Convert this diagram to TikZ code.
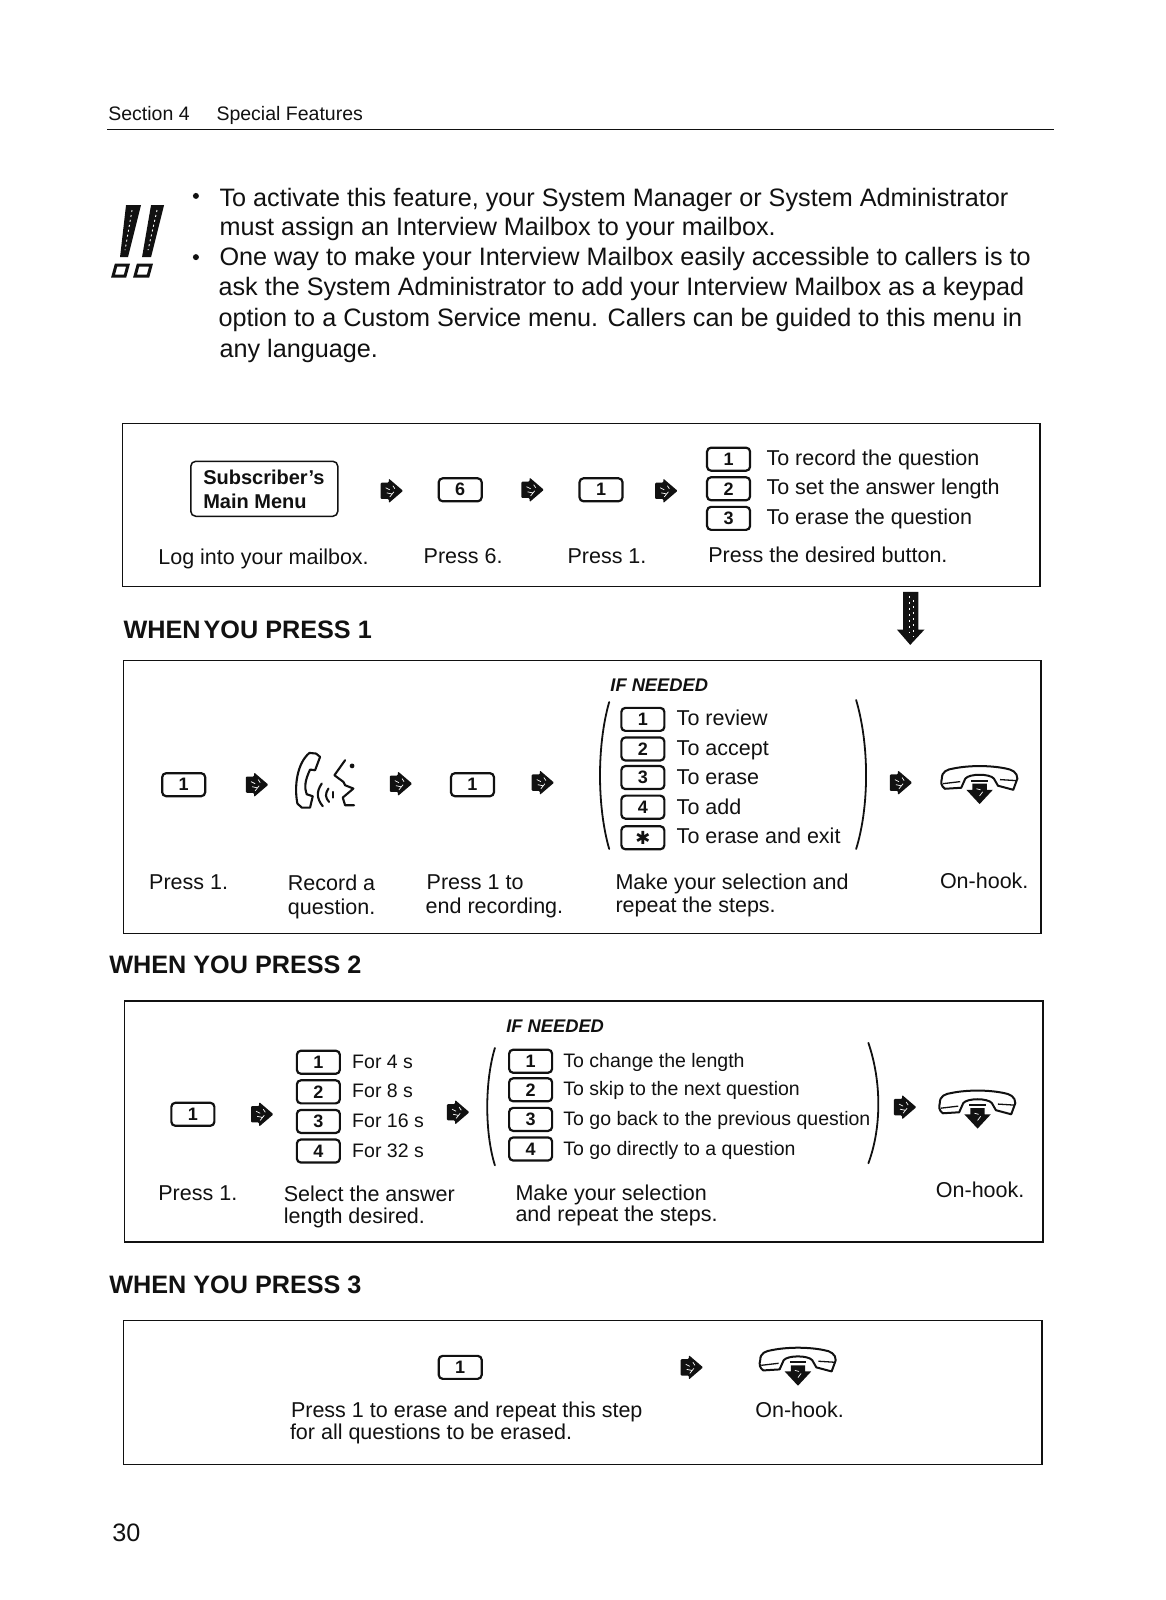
\documentclass[tikz,border=0pt]{standalone}
\usepackage{fontspec}
\setmainfont{Liberation Sans}
\newfontfamily\dejavu{DejaVu Sans}
\definecolor{ink}{HTML}{111111}
\tikzset{
  txt/.style={inner sep=0pt,text=ink,font=\fontsize{21.5}{24}\selectfont},
  big/.style={txt,font=\fontsize{25.2}{28}\selectfont},
  small/.style={txt,font=\fontsize{19.5}{22}\selectfont},
  head/.style={txt,font=\fontsize{25.2}{28}\selectfont\bfseries},
  hdr/.style={txt,font=\fontsize{19.5}{22}\selectfont},
  ifn/.style={txt,font=\fontsize{18.3}{22}\selectfont\bfseries\itshape},
  menu/.style={txt,font=\fontsize{20}{22}\selectfont\bfseries},
  frame/.style={draw=ink,line width=1.4pt},
  keybox/.style={draw=ink,line width=2.2pt,rounded corners=4pt,minimum width=43pt,minimum height=23pt,inner sep=0pt,text=ink,font=\fontsize{18}{20}\selectfont\bfseries},
  brk/.style={draw=ink,line width=1.8pt,line cap=round},
  arrowr/.pic={
    \fill[ink,rounded corners=1pt] (-11,-8) -- (-3,-8) -- (-3,-12) -- (11,0) -- (-3,12) -- (-3,8) -- (-11,8) -- cycle;
    \draw[white,line width=.7pt] (-6,-3) -- (-2,-1) (-5,2) -- (0,3) (1,-5) -- (3,-2) (-2,6) -- (2,1);
  },
  phone/.pic={
    \draw[ink,line width=2pt,fill=white,line join=round] (-37,-2) .. controls (-37,-9) and (-32,-11) .. (-25,-12) .. controls (-10,-15) and (10,-15) .. (25,-12) .. controls (32,-11) and (37,-8) .. (37,-2) -- (33,9) -- (18,5) -- (14,-2) .. controls (10,-7) and (-10,-7) .. (-14,-2) -- (-18,7) -- (-34,8) .. controls (-38,5) and (-38,2) .. (-37,-2) -- cycle;
    \draw[ink,line width=1.3pt] (-36,3) -- (-19,1) (36,0) -- (20,-1);
    \draw[ink,line width=1.8pt] (-8,0) -- (8,0);
    \fill[ink] (-7,3) -- (7,3) -- (7,9) -- (13,9) -- (0,23) -- (-13,9) -- (-7,9) -- cycle;
    \draw[white,line width=.7pt] (-3,8) -- (1,9) (3,11) -- (0,15);
  }
}
\newcommand\T[5]{\node[#2,anchor=base west] (#1) at (#3,#4+7) {#5};}
\begin{document}
\begin{tikzpicture}[x=1.0201pt,y=-1.0201pt]
\useasboundingbox (0,0) rectangle (1142,1568);
\fill[white] (0,0) rectangle (1142,1568);
% header
\T{sec}{hdr}{106}{111}{Section 4}
\T{spec}{hdr}{212}{111}{Special Features}
\draw[ink,line width=1.3pt] (105,127) -- (1033,127);
% exclamation icon (full-size coordinates)
\begin{scope}[x=1pt,y=-1pt]
  \fill[ink] (126,205) -- (141,205) -- (128,257) -- (120,257) -- cycle;
  \fill[ink] (151,205) -- (164,205) -- (151,257) -- (142,257) -- cycle;
  \draw[white,line width=.9pt,dash pattern=on 2pt off 3pt] (132,210) -- (125,250) (157,210) -- (148,250);
  \draw[ink,line width=3pt] (116,265) -- (128,265) -- (125,276) -- (113,276) -- cycle (138,265) -- (151,265) -- (148,276) -- (135,276) -- cycle;
\end{scope}
% bullets
\fill[ink] (192,192) circle (3pt) (192,252) circle (3pt);
\T{b1}{big}{215}{195}{To activate this feature, your System Manager or System Administrator}
\T{b2}{big}{215}{224}{must assign an Interview Mailbox to your mailbox.}
\T{b3}{big}{215}{253}{One way to make your Interview Mailbox easily accessible to callers is to}
\T{b4}{big}{214}{283}{ask the System Administrator to add your Interview Mailbox as a keypad}
\T{b5}{big}{214}{313}{option to a Custom Service menu. Callers can be guided to this menu in}
\T{b6}{big}{215}{343}{any language.}
% box 1
\draw[frame] (120,415) rectangle (1019,575);
\node[draw=ink,line width=1.5pt,rounded corners=5pt,minimum width=147pt,minimum height=55pt] (submenu) at (259,479) {};
\T{sub1}{menu}{199}{468}{Subscriber's}
\T{sub2}{menu}{199}{491}{Main Menu}
\pic at (384,481) {arrowr};
\node[keybox] (k6) at (451,480) {6};
\pic at (522,480) {arrowr};
\node[keybox] (a1) at (589,480) {1};
\pic at (653,481) {arrowr};
\node[keybox] (m1) at (714,450) {1};
\node[keybox] (m2) at (714,479) {2};
\node[keybox] (m3) at (714,508) {3};
\T{mt1}{txt}{751}{449}{To record the question}
\T{mt2}{txt}{751}{478}{To set the answer length}
\T{mt3}{txt}{751}{507}{To erase the question}
\T{c1}{txt}{155}{546}{Log into your mailbox.}
\T{c2}{txt}{415}{545}{Press 6.}
\T{c3}{txt}{556}{545}{Press 1.}
\T{c4}{txt}{694}{544}{Press the desired button.}
% down arrow
\fill[ink] (885,580) -- (900,580) -- (900,617) -- (906,617) -- (892,632) -- (879,617) -- (885,617) -- cycle;
\draw[white,line width=.8pt,dash pattern=on 2pt off 4pt] (891,584) -- (891,620) (895,588) -- (895,624);
\T{h1}{head}{121}{619}{WHEN\hspace{3pt}YOU PRESS 1}
% box 2
\draw[frame] (121,647) rectangle (1020,915);
\T{if1}{ifn}{598}{671}{IF NEEDED}
\draw[brk] (597,688) .. controls (585,730) and (585,790) .. (597,832);
\draw[brk] (839,686) .. controls (852,730) and (852,790) .. (839,832);
\node[keybox] (r1) at (630,705) {1};
\node[keybox] (r2) at (630,734) {2};
\node[keybox] (r3) at (630,762) {3};
\node[keybox] (r4) at (630,791) {4};
\node[keybox] (r5) at (630,821) {\dejavu ✱};
\T{rt1}{txt}{663}{704}{To review}
\T{rt2}{txt}{663}{733}{To accept}
\T{rt3}{txt}{663}{762}{To erase}
\T{rt4}{txt}{663}{791}{To add}
\T{rt5}{txt}{663}{820}{To erase and exit}
\node[keybox] (p1) at (180,769) {1};
\pic at (252,769) {arrowr};
\begin{scope}[xshift=150pt,yshift=-720pt,x=.3333pt,y=-.3333pt,ink,line width=2.1pt,line join=round,line cap=round]
  \draw (478,98) -- (498,100) -- (510,110) -- (495,150) -- (480,148) .. controls (465,180) and (462,200) .. (470,222) -- (488,228) -- (480,262) -- (455,262) -- (442,250) .. controls (432,200) and (440,130) .. (478,98) -- cycle;
  \draw (515,190) .. controls (498,215) and (500,235) .. (518,258);
  \draw (535,205) .. controls (525,220) and (525,232) .. (537,245);
  \draw (550,215) -- (550,232);
  \draw (585,120) -- (553,165) -- (580,185) -- (585,195) -- (610,205) -- (578,232) -- (585,255) -- (612,255);
  \fill (606,137) circle (2.4pt);
\end{scope}
\pic at (393,768) {arrowr};
\node[keybox] (p2) at (463,769) {1};
\pic at (532,767) {arrowr};
\pic at (883,767) {arrowr};
\pic at (960,765) {phone};
\T{d1}{txt}{146}{865}{Press 1.}
\T{d2}{txt}{282}{866}{Record a}
\T{d3}{txt}{282}{889}{question.}
\T{d4}{txt}{418}{865}{Press 1 to}
\T{d5}{txt}{417}{888}{end recording.}
\T{d6}{txt}{603}{865}{Make your selection and}
\T{d7}{txt}{603}{887}{repeat the steps.}
\T{d8}{txt}{921}{864}{On-hook.}
\T{h2}{head}{107}{947}{WHEN YOU PRESS 2}
% box 3
\draw[frame] (122,981) rectangle (1022,1217);
\T{if2}{ifn}{496}{1005}{IF NEEDED}
\node[keybox] (q0) at (189,1092) {1};
\pic at (257,1092) {arrowr};
\node[keybox] (q1) at (312,1041) {1};
\node[keybox] (q2) at (312,1070) {2};
\node[keybox] (q3) at (312,1099) {3};
\node[keybox] (q4) at (312,1128) {4};
\T{qt1}{small}{345}{1040}{For 4 s}
\T{qt2}{small}{345}{1069}{For 8 s}
\T{qt3}{small}{345}{1098}{For 16 s}
\T{qt4}{small}{345}{1127}{For 32 s}
\pic at (449,1090) {arrowr};
\draw[brk] (485,1027) .. controls (475,1060) and (475,1110) .. (485,1142);
\draw[brk] (851,1022) .. controls (864,1060) and (864,1105) .. (851,1140);
\node[keybox] (s1) at (520,1040) {1};
\node[keybox] (s2) at (520,1068) {2};
\node[keybox] (s3) at (520,1097) {3};
\node[keybox] (s4) at (520,1126) {4};
\T{st1}{small}{552}{1039}{To change the length}
\T{st2}{small}{552}{1067}{To skip to the next question}
\T{st3}{small}{552}{1096}{To go back to the previous question}
\T{st4}{small}{552}{1125}{To go directly to a question}
\pic at (887,1085) {arrowr};
\pic at (958,1083) {phone};
\T{e1}{txt}{155}{1169}{Press 1.}
\T{e2}{txt}{278}{1170}{Select the answer}
\T{e3}{txt}{278}{1192}{length desired.}
\T{e4}{txt}{505}{1169}{Make your selection}
\T{e5}{txt}{505}{1190}{and repeat the steps.}
\T{e6}{txt}{917}{1167}{On-hook.}
\T{h3}{head}{107}{1261}{WHEN YOU PRESS 3}
% box 4
\draw[frame] (121,1294) rectangle (1021,1435);
\node[keybox] (u1) at (451,1340) {1};
\pic at (678,1340) {arrowr};
\pic at (782,1335) {phone};
\T{f1}{txt}{285}{1382}{Press 1 to erase and repeat this step}
\T{f2}{txt}{284}{1404}{for all questions to be erased.}
\T{f3}{txt}{740}{1382}{On-hook.}
\T{pg}{big}{110}{1504}{30}
\end{tikzpicture}
\end{document}
